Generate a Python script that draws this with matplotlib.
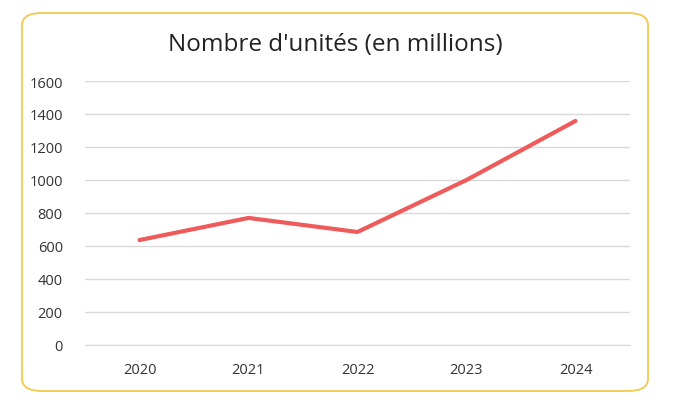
import matplotlib
matplotlib.use("Agg")
import matplotlib.pyplot as plt
from matplotlib.patches import FancyBboxPatch

years = ["2020", "2021", "2022", "2023", "2024"]
units = [636, 770, 685, 1000, 1358]
yticks = [0, 200, 400, 600, 800, 1000, 1200, 1400, 1600]

plt.rcParams['font.family'] = ['Open Sans', 'DejaVu Sans']
fig = plt.figure(figsize=(6.73, 4.06), dpi=100)
fig.patches.append(FancyBboxPatch((22/673, 14/406), 626/673, 378/406,
    boxstyle="round,pad=0,rounding_size=0.03", transform=fig.transFigure,
    facecolor="white", edgecolor="#F2C94C", linewidth=1.3, zorder=-1))
ax = fig.add_axes([85/673, 1-346/406, 545/673, 264/406])
ax.patch.set_alpha(0)
ax.plot(range(len(years)), units, color="#EF5B5B", linewidth=3, solid_capstyle="round")
ax.set_xlim(-0.5, 4.5)
ax.set_ylim(0, 1600)
ax.set_yticks(yticks)
ax.set_xticks(range(len(years)))
ax.set_xticklabels(years)
ax.grid(axis="y", color="#D9D9D9", linewidth=1)
ax.set_axisbelow(True)
for s in ["top", "right", "left"]:
    ax.spines[s].set_visible(False)
ax.spines["bottom"].set_color("#D9D9D9")
ax.tick_params(length=0, labelsize=10.5, colors="#333333")
ax.tick_params(axis="x", pad=12)
ax.tick_params(axis="y", pad=16)
fig.text(335/673, 1-45/406, "Nombre d'unités (en millions)", ha="center", va="center",
         fontsize=17.5, color="#222222")
fig.savefig("out.png", dpi=100)
